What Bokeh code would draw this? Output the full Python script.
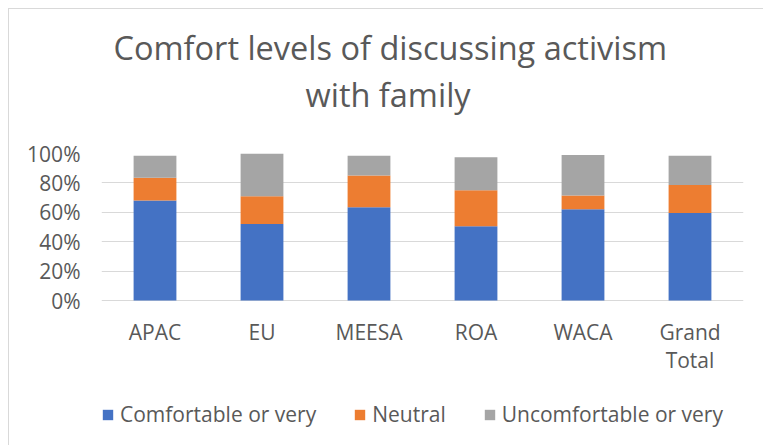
from bokeh.plotting import figure
from bokeh.models import FactorRange, Range1d, NumeralTickFormatter, FixedTicker, Title, Legend
from bokeh.core.properties import value
from bokeh.embed import file_html
from bokeh.resources import INLINE

categories = ["APAC", "EU", "MEESA", "ROA", "WACA", "Grand Total"]
comfortable = [0.68, 0.52, 0.635, 0.505, 0.62, 0.595]
neutral = [0.155, 0.19, 0.215, 0.245, 0.095, 0.19]
uncomfortable = [0.15, 0.29, 0.135, 0.225, 0.275, 0.20]
series_names = ["Comfortable or very", "Neutral", "Uncomfortable or very"]
y_ticks = [0, 0.2, 0.4, 0.6, 0.8, 1.0]
title_lines = ["Comfort levels of discussing activism", "with family"]

colors = ["#4472C4", "#ED7D31", "#A5A5A5"]
TXT = "#595959"
FONT = "Open Sans"

factors = [c.replace(" ", "\n") if c == "Grand Total" else c for c in categories]
data = {"cat": factors, "c": comfortable, "n": neutral, "u": uncomfortable}

# the plot area extends below 0% so that category labels and legend sit inside it
p = figure(x_range=FactorRange(*factors, range_padding=0), y_range=Range1d(-0.986, 1),
           frame_width=642, frame_height=292, output_backend="svg", toolbar_location=None,
           min_border_left=92, min_border_right=20, min_border_top=144, min_border_bottom=0)
p.styles = {"margin-left": "8px", "margin-top": "8px",
            "border-left": "1px solid #D9D9D9", "border-top": "1px solid #D9D9D9"}
p.outline_line_color = None

rs = p.vbar_stack(["c", "n", "u"], x="cat", width=0.4, source=data, color=colors,
                  line_color=None)

# category labels just under the 0% line
p.text(x="cat", y=-0.1156, text="cat", source=data, text_align="center",
       text_baseline="top", text_font=value(FONT), text_font_size=value("21px"),
       text_color=TXT, text_line_height=1.0)

p.xaxis.visible = False
p.xgrid.grid_line_color = None
p.ygrid.grid_line_color = "#D9D9D9"
p.ygrid.grid_line_width = 1
p.yaxis.ticker = FixedTicker(ticks=y_ticks)
p.yaxis.formatter = NumeralTickFormatter(format="0%")
ax = p.yaxis[0]
ax.major_tick_line_color = None
ax.minor_tick_line_color = None
ax.major_tick_out = 0
ax.major_tick_in = 0
ax.major_label_text_font = FONT
ax.major_label_text_font_size = "21px"
ax.major_label_text_color = TXT
ax.axis_line_color = None
ax.major_label_standoff = 21

legend = Legend(items=[(n, [r]) for n, r in zip(series_names, rs)], orientation="horizontal",
                location=(0, 17), padding=0, margin=0, spacing=37,
                glyph_width=13, glyph_height=13, label_standoff=6,
                border_line_color=None, background_fill_alpha=0,
                label_text_font=FONT, label_text_font_size="21px", label_text_color=TXT)
p.add_layout(legend, "center")

# spacer between the plot area and the two-line title (nearest the frame)
p.add_layout(Title(text=" ", text_font_size="1px", standoff=34), "above")
# second line first (closest to the frame), then first line above it
for txt, off in zip(reversed(title_lines), [204, 12]):
    p.add_layout(Title(text=txt, align="left", offset=off, text_font=FONT,
                       text_font_size="32.5px", text_color=TXT, text_font_style="normal",
                       standoff=0), "above")

open("out.html", "w").write(file_html(p, INLINE))
